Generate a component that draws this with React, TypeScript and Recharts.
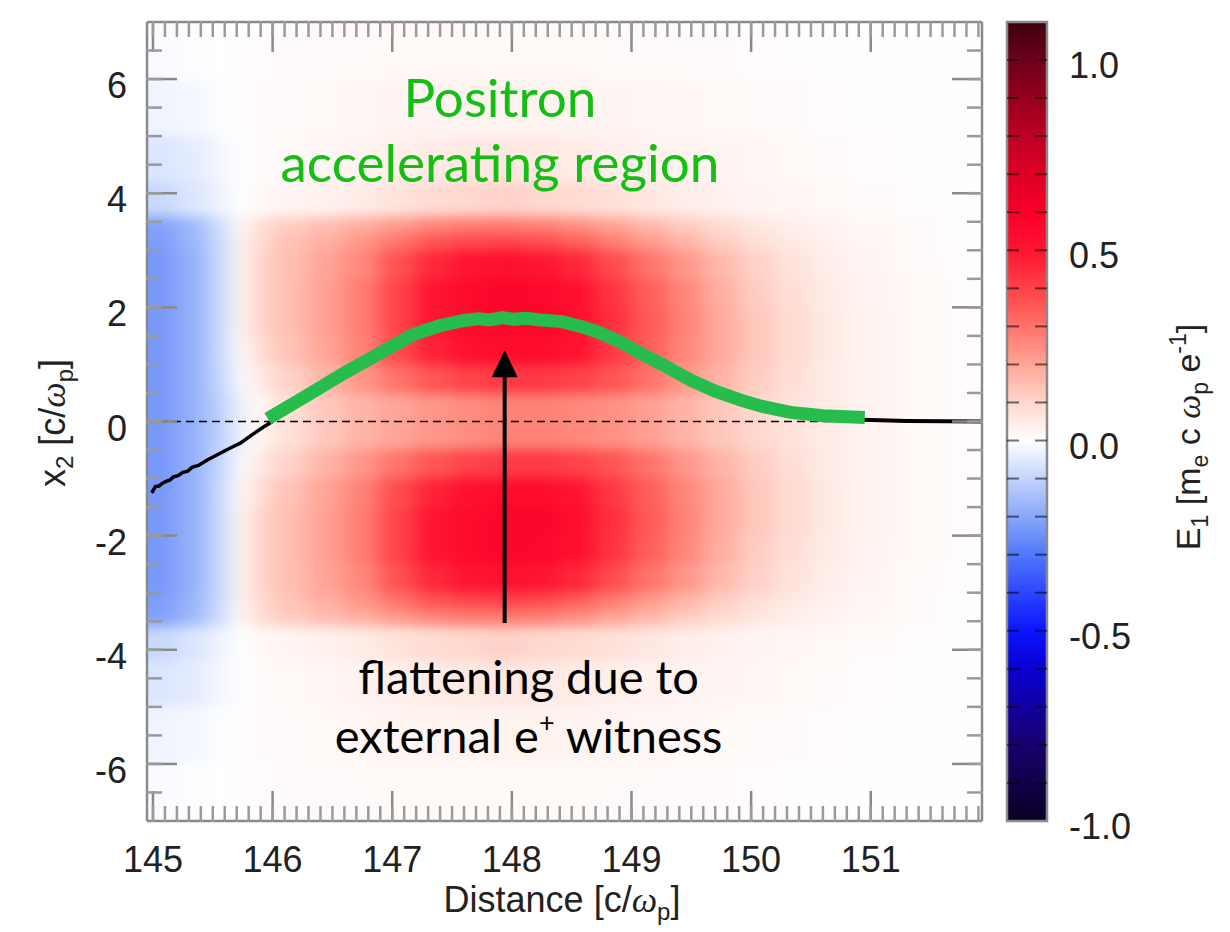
import React from 'react'
import {
  ComposedChart,
  Scatter,
  Line,
  XAxis,
  YAxis,
  ReferenceLine,
  ReferenceDot,
  ReferenceArea,
} from 'recharts'

// axis ranges (simulation box, c/wp) and colour bar range (m_e c wp / e)
const X_DOMAIN: [number, number] = [144.95, 151.93]
const Y_DOMAIN: [number, number] = [-7, 7]
const CBAR_DOMAIN: [number, number] = [-1.0, 1.1]

const xMajorTicks = [145, 146, 147, 148, 149, 150, 151]
const yMajorTicks = [-6, -4, -2, 0, 2, 4, 6]
const cbarLabelTicks = [-1.0, -0.5, 0.0, 0.5, 1.0]

// E1 field: column edges along x, row edges in x2 (upper half, the map is mirror symmetric)
const colEdges = [
  144.4, 145.2, 145.45, 145.65, 145.8, 146.0, 146.3, 146.6, 146.9, 147.2, 147.5, 147.8, 148.1,
  148.4, 148.7, 149.0, 149.3, 149.6, 149.9, 150.2, 150.5, 150.8, 151.2, 151.6, 152.5,
]
const rowEdges = [0, 0.5, 1.0, 1.5, 2.0, 2.5, 3.0, 3.3, 3.6, 4.2, 5.0, 6.0, 8.5]
const fieldUpper = [
  [-0.23, -0.18, -0.11, -0.03, 0.02, 0.08, 0.13, 0.17, 0.2, 0.23, 0.25, 0.27, 0.27, 0.26, 0.24, 0.21, 0.17, 0.13, 0.1, 0.07, 0.05, 0.03, 0.015, 0.008],
  [-0.23, -0.18, -0.1, -0.01, 0.05, 0.11, 0.17, 0.23, 0.3, 0.36, 0.4, 0.42, 0.42, 0.4, 0.36, 0.3, 0.23, 0.17, 0.12, 0.08, 0.05, 0.03, 0.015, 0.008],
  [-0.23, -0.18, -0.09, 0.01, 0.08, 0.14, 0.2, 0.27, 0.38, 0.47, 0.52, 0.54, 0.54, 0.5, 0.42, 0.34, 0.26, 0.19, 0.13, 0.09, 0.055, 0.03, 0.015, 0.008],
  [-0.23, -0.18, -0.09, 0.02, 0.1, 0.15, 0.21, 0.28, 0.4, 0.5, 0.55, 0.57, 0.57, 0.53, 0.44, 0.35, 0.27, 0.19, 0.13, 0.09, 0.055, 0.03, 0.015, 0.008],
  [-0.23, -0.18, -0.09, 0.02, 0.1, 0.15, 0.21, 0.28, 0.4, 0.5, 0.55, 0.57, 0.56, 0.52, 0.43, 0.34, 0.26, 0.18, 0.12, 0.08, 0.05, 0.028, 0.014, 0.007],
  [-0.23, -0.18, -0.09, 0.02, 0.1, 0.15, 0.2, 0.26, 0.37, 0.46, 0.5, 0.52, 0.5, 0.46, 0.38, 0.3, 0.23, 0.16, 0.11, 0.07, 0.045, 0.025, 0.012, 0.006],
  [-0.22, -0.17, -0.09, 0.02, 0.09, 0.14, 0.18, 0.23, 0.3, 0.36, 0.39, 0.4, 0.38, 0.34, 0.28, 0.22, 0.17, 0.12, 0.08, 0.055, 0.035, 0.02, 0.01, 0.005],
  [-0.21, -0.16, -0.08, 0.01, 0.08, 0.12, 0.15, 0.18, 0.22, 0.26, 0.28, 0.28, 0.27, 0.24, 0.2, 0.16, 0.12, 0.09, 0.06, 0.04, 0.03, 0.018, 0.01, 0.005],
  [-0.09, -0.06, -0.03, 0.0, 0.015, 0.025, 0.035, 0.05, 0.07, 0.09, 0.1, 0.11, 0.1, 0.09, 0.075, 0.06, 0.045, 0.035, 0.025, 0.02, 0.015, 0.01, 0.007, 0.004],
  [-0.06, -0.045, -0.02, 0.0, 0.01, 0.015, 0.02, 0.03, 0.04, 0.05, 0.055, 0.06, 0.055, 0.05, 0.04, 0.035, 0.03, 0.025, 0.02, 0.015, 0.012, 0.008, 0.005, 0.003],
  [-0.025, -0.018, -0.005, 0.005, 0.01, 0.012, 0.015, 0.02, 0.025, 0.028, 0.03, 0.03, 0.03, 0.027, 0.024, 0.02, 0.018, 0.015, 0.012, 0.01, 0.008, 0.006, 0.004, 0.002],
  [-0.01, -0.005, 0.0, 0.005, 0.008, 0.01, 0.012, 0.013, 0.015, 0.015, 0.015, 0.015, 0.015, 0.014, 0.013, 0.012, 0.011, 0.01, 0.008, 0.007, 0.006, 0.005, 0.003, 0.002],
]

// drive beam centroid (black) and the part over the witness (green)
const beamLeft = [
  { x: 144.99, y: -1.25 }, { x: 145.02, y: -1.14 }, { x: 145.05, y: -1.13 }, { x: 145.08, y: -1.08 },
  { x: 145.11, y: -1.05 }, { x: 145.14, y: -1.03 }, { x: 145.17, y: -0.97 }, { x: 145.21, y: -0.95 },
  { x: 145.25, y: -0.89 }, { x: 145.29, y: -0.87 }, { x: 145.33, y: -0.8 }, { x: 145.38, y: -0.77 },
  { x: 145.45, y: -0.68 }, { x: 145.55, y: -0.57 }, { x: 145.65, y: -0.46 }, { x: 145.73, y: -0.38 },
  { x: 145.83, y: -0.23 }, { x: 145.92, y: -0.1 }, { x: 146.0, y: 0.0 },
]
const witness = [
  { x: 145.96, y: 0.05 }, { x: 146.3, y: 0.47 }, { x: 146.6, y: 0.85 }, { x: 146.9, y: 1.2 },
  { x: 147.17, y: 1.52 }, { x: 147.4, y: 1.68 }, { x: 147.6, y: 1.77 }, { x: 147.72, y: 1.8 },
  { x: 147.82, y: 1.78 }, { x: 147.92, y: 1.82 }, { x: 148.02, y: 1.79 }, { x: 148.12, y: 1.81 },
  { x: 148.24, y: 1.78 }, { x: 148.42, y: 1.75 }, { x: 148.6, y: 1.65 }, { x: 148.73, y: 1.56 },
  { x: 148.9, y: 1.4 }, { x: 149.08, y: 1.19 }, { x: 149.3, y: 0.95 }, { x: 149.5, y: 0.72 },
  { x: 149.7, y: 0.53 }, { x: 149.92, y: 0.37 }, { x: 150.1, y: 0.26 }, { x: 150.33, y: 0.16 },
  { x: 150.6, y: 0.1 }, { x: 150.95, y: 0.07 },
]
const beamRight = [
  { x: 150.93, y: 0.03 }, { x: 151.3, y: 0.01 }, { x: 151.93, y: 0.0 },
]
const arrowSegment = [{ x: 147.94, y: -3.53 }, { x: 147.94, y: 1.25 }]

// colour table of the E1 map
const colorStops: [number, [number, number, number]][] = [
  [-1.0, [10, 0, 35]],
  [-0.8, [25, 0, 110]],
  [-0.6, [10, 0, 210]],
  [-0.5, [10, 20, 255]],
  [-0.3, [80, 120, 250]],
  [-0.15, [165, 190, 250]],
  [0.0, [255, 255, 255]],
  [0.1, [255, 215, 205]],
  [0.2, [255, 165, 150]],
  [0.35, [255, 90, 85]],
  [0.5, [255, 20, 50]],
  [0.6, [250, 0, 40]],
  [0.8, [190, 0, 35]],
  [1.0, [110, 0, 25]],
  [1.1, [60, 0, 15]],
]

const SANS = '"Liberation Sans", Arial, sans-serif'
const SERIF = '"Liberation Serif", serif'
const GILL = 'Lato, "Open Sans", sans-serif'
const FRAME = '#8a8a8a'

// two 1px axes on each side of the plot
const CHART_W = 1000
const CHART_H = 932
const MARGIN = { top: 20, right: 16, bottom: 109, left: 145 }
const PLOT_W = 835
const PLOT_H = 799
const PX_X = PLOT_W / (X_DOMAIN[1] - X_DOMAIN[0])
const PX_Y = PLOT_H / (Y_DOMAIN[1] - Y_DOMAIN[0])

const steps = (from: number, to: number, step: number) => {
  const out: number[] = []
  for (let v = from; v <= to + 1e-9; v += step) out.push(Math.round(v * 100) / 100)
  return out
}
const xMinorTicks = steps(145, 151.9, 0.1)
const yMinorTicks = steps(-6.5, 6.5, 0.5)
const cbarMinorTicks = steps(-0.9, 1.0, 0.1)

// invisible span so the tick-only x axes get their range
const xSpan = [{ x: X_DOMAIN[0], y: 0 }, { x: X_DOMAIN[1], y: 0 }]

const fieldColor = (v: number) => {
  const s = colorStops
  if (v <= s[0][0]) return `rgb(${s[0][1].join(',')})`
  for (let i = 1; i < s.length; i++) {
    if (v <= s[i][0]) {
      const t = (v - s[i - 1][0]) / (s[i][0] - s[i - 1][0])
      const c = s[i - 1][1].map((a, k) => Math.round(a + (s[i][1][k] - a) * t))
      return `rgb(${c.join(',')})`
    }
  }
  return `rgb(${s[s.length - 1][1].join(',')})`
}

type FieldCell = { x: number; y: number; w: number; h: number; v: number }
const cells: FieldCell[] = []
fieldUpper.forEach((row, i) => {
  const h = rowEdges[i + 1] - rowEdges[i]
  const yc = (rowEdges[i] + rowEdges[i + 1]) / 2
  row.forEach((v, j) => {
    const w = colEdges[j + 1] - colEdges[j]
    const xc = (colEdges[j] + colEdges[j + 1]) / 2
    cells.push({ x: xc, y: yc, w, h, v })
    cells.push({ x: xc, y: -yc, w, h, v })
  })
})

const cbarLine = colorStops.map(([v]) => ({ x: 0.5, v }))

const CellShape = (props: any) => {
  const { cx, cy, payload } = props
  const w = payload.w * PX_X + 1
  const h = payload.h * PX_Y + 1
  return <rect x={cx - w / 2} y={cy - h / 2} width={w} height={h} fill={fieldColor(payload.v)} />
}

const ArrowShape = (props: any) => {
  const { x1, y1, x2, y2 } = props
  const head = 27
  const half = 13
  const dir = y2 < y1 ? 1 : -1
  return (
    <g>
      <line x1={x1} y1={y1} x2={x2} y2={y2 + dir * head} stroke="#000" strokeWidth={4} />
      <polygon
        points={`${x2},${y2} ${x2 - half},${y2 + dir * head} ${x2 + half},${y2 + dir * head}`}
        fill="#000"
      />
    </g>
  )
}

// tick marks only, no label
const NoLabel = () => <g />

const XTickLabel = (p: any) => (
  <text x={p.x} y={p.y} textAnchor="middle" fontFamily={SANS} fontSize={36} fill="#222">
    {p.payload.value}
  </text>
)
const YTickLabel = (p: any) => (
  <text x={p.x} y={p.y + 19} textAnchor="end" fontFamily={SANS} fontSize={36} fill="#222">
    {p.payload.value}
  </text>
)
const CbarTickLabel = (p: any) => (
  <text x={p.x} y={p.y + 18} textAnchor="start" fontFamily={SANS} fontSize={36} fill="#222">
    {Number(p.payload.value).toFixed(1)}
  </text>
)

const note = (text: React.ReactNode, color: string, size: number) => (p: any) => {
  const vb = p.viewBox || {}
  const cx = (vb.x ?? 0) + (vb.width ?? 0) / 2
  const cy = (vb.y ?? 0) + (vb.height ?? 0) / 2
  return (
    <text x={cx} y={cy} textAnchor="middle" fontFamily={GILL} fontSize={size} fill={color}>
      {text}
    </text>
  )
}

const tickLine = { stroke: FRAME, strokeWidth: 2.5 }
const minorTickLine = { stroke: '#9a9a9a', strokeWidth: 2.5 }
const axisLine = { stroke: FRAME, strokeWidth: 2.5 }
const cbarTickLine = { stroke: '#000', strokeOpacity: 0.55, strokeWidth: 2 }

function MainPanel() {
  return (
    <ComposedChart width={CHART_W} height={CHART_H} margin={MARGIN}>
      {/* frame + tick marks pointing inwards on all four sides */}
      <XAxis xAxisId="x" dataKey="x" type="number" domain={X_DOMAIN} allowDataOverflow height={1}
        ticks={xMajorTicks} interval={0} tick={XTickLabel} tickSize={-30} tickMargin={81}
        tickLine={tickLine} axisLine={axisLine} />
      <XAxis xAxisId="xbm" dataKey="x" type="number" domain={X_DOMAIN} allowDataOverflow height={1}
        ticks={xMinorTicks} interval={0} tick={NoLabel} tickSize={-16} tickLine={minorTickLine} axisLine={false} />
      <XAxis xAxisId="xtM" dataKey="x" orientation="top" type="number" domain={X_DOMAIN} allowDataOverflow height={1}
        ticks={xMajorTicks} interval={0} tick={NoLabel} tickSize={-30} tickLine={tickLine} axisLine={axisLine} />
      <XAxis xAxisId="xtm" dataKey="x" orientation="top" type="number" domain={X_DOMAIN} allowDataOverflow height={1}
        ticks={xMinorTicks} interval={0} tick={NoLabel} tickSize={-16} tickLine={minorTickLine} axisLine={false} />
      <YAxis yAxisId="y" dataKey="y" type="number" domain={Y_DOMAIN} allowDataOverflow width={1}
        ticks={yMajorTicks} interval={0} tick={YTickLabel} tickSize={-30} tickMargin={50}
        tickLine={tickLine} axisLine={axisLine} />
      <YAxis yAxisId="ylm" type="number" domain={Y_DOMAIN} allowDataOverflow width={1}
        ticks={yMinorTicks} interval={0} tick={NoLabel} tickSize={-16} tickLine={minorTickLine} axisLine={false} />
      <YAxis yAxisId="yrM" orientation="right" type="number" domain={Y_DOMAIN} allowDataOverflow width={1}
        ticks={yMajorTicks} interval={0} tick={NoLabel} tickSize={-30} tickLine={tickLine} axisLine={axisLine} />
      <YAxis yAxisId="yrm" orientation="right" type="number" domain={Y_DOMAIN} allowDataOverflow width={1}
        ticks={yMinorTicks} interval={0} tick={NoLabel} tickSize={-16} tickLine={minorTickLine} axisLine={false} />

      {['xbm', 'xtM', 'xtm'].map((id) => (
        <Line key={id} data={xSpan} dataKey="y" xAxisId={id} yAxisId="y" stroke="none" dot={false}
          isAnimationActive={false} />
      ))}

      <Scatter
        className="field-map"
        data={cells}
        dataKey="y"
        xAxisId="x"
        yAxisId="y"
        shape={CellShape}
        isAnimationActive={false}
        zIndex={-50}
      />

      <ReferenceLine
        xAxisId="x"
        yAxisId="y"
        segment={[{ x: X_DOMAIN[0], y: 0 }, { x: 150.9, y: 0 }]}
        stroke="#000"
        strokeWidth={1.4}
        strokeDasharray="8 5"
        zIndex={390}
      />
      <Line data={beamLeft} dataKey="y" xAxisId="x" yAxisId="y" stroke="#000" strokeWidth={3.5}
        dot={false} isAnimationActive={false} zIndex={400} />
      <Line data={beamRight} dataKey="y" xAxisId="x" yAxisId="y" stroke="#000" strokeWidth={4}
        dot={false} isAnimationActive={false} zIndex={400} />
      <Line data={witness} dataKey="y" xAxisId="x" yAxisId="y" stroke="#27bd4c" strokeWidth={13}
        strokeLinecap="butt" dot={false} isAnimationActive={false} zIndex={410} />
      <ReferenceLine xAxisId="x" yAxisId="y" segment={arrowSegment} shape={ArrowShape} zIndex={450} />

      <ReferenceDot xAxisId="x" yAxisId="y" x={147.9} y={5.33} r={0} fill="none" stroke="none"
        label={note('Positron', '#14bf14', 53)} />
      <ReferenceDot xAxisId="x" yAxisId="y" x={147.9} y={4.19} r={0} fill="none" stroke="none"
        label={note('accelerating region', '#14bf14', 53)} />
      <ReferenceDot xAxisId="x" yAxisId="y" x={148.14} y={-4.77} r={0} fill="none" stroke="none"
        label={note('flattening due to', '#000', 47)} />
      <ReferenceDot xAxisId="x" yAxisId="y" x={148.14} y={-5.81} r={0} fill="none" stroke="none"
        label={note(
          <>
            external e<tspan dy={-21} fontSize={27}>+</tspan>
            <tspan dy={21}> witness</tspan>
          </>,
          '#000',
          47
        )} />
    </ComposedChart>
  )
}

function ColorBar() {
  return (
    <ComposedChart width={1230} height={CHART_H} margin={{ top: 22, right: 181, bottom: 111, left: 1006 }}>
      <XAxis xAxisId="cx" dataKey="x" type="number" domain={[0, 1]} hide />
      <YAxis yAxisId="cbl" type="number" domain={CBAR_DOMAIN} allowDataOverflow width={1}
        ticks={cbarMinorTicks} interval={0} tick={NoLabel} tickSize={-12}
        tickLine={cbarTickLine} axisLine={false} />
      <YAxis yAxisId="cb" orientation="right" type="number" domain={CBAR_DOMAIN} allowDataOverflow width={1}
        ticks={cbarMinorTicks} interval={0} tick={NoLabel} tickSize={-12}
        tickLine={cbarTickLine} axisLine={false} />
      <YAxis yAxisId="cbt" orientation="right" type="number" domain={CBAR_DOMAIN} allowDataOverflow width={1}
        ticks={cbarLabelTicks} interval={0} tick={CbarTickLabel} tickSize={-12} tickMargin={33}
        tickLine={false} axisLine={false} />
      <ReferenceArea xAxisId="cx" yAxisId="cb" x1={0} x2={1} y1={CBAR_DOMAIN[0]} y2={CBAR_DOMAIN[1]}
        fill="url(#cbarGrad)" fillOpacity={1} stroke={FRAME} strokeWidth={2.5} zIndex={-50} />
      <Line data={cbarLine} dataKey="v" xAxisId="cx" yAxisId="cb" stroke="none" dot={false}
        isAnimationActive={false} />
    </ComposedChart>
  )
}

export default function App() {
  const span = CBAR_DOMAIN[1] - CBAR_DOMAIN[0]
  return (
    <div style={{ position: 'absolute', left: 0, top: 0, width: 1230, height: 932, background: '#fff' }}>
      <style>{`.field-map { filter: url(#fieldBlur); }`}</style>
      <svg width={0} height={0} style={{ position: 'absolute' }}>
        <defs>
          <filter id="fieldBlur" x="-5%" y="-5%" width="110%" height="110%" colorInterpolationFilters="sRGB">
            <feGaussianBlur stdDeviation="10 6" />
          </filter>
          <linearGradient id="cbarGrad" x1="0" y1="1" x2="0" y2="0">
            {colorStops.map(([v, c]) => (
              <stop key={v} offset={(v - CBAR_DOMAIN[0]) / span} stopColor={`rgb(${c.join(',')})`} />
            ))}
          </linearGradient>
        </defs>
      </svg>
      <div style={{ position: 'absolute', left: 0, top: 0 }}>
        <MainPanel />
      </div>
      <div style={{ position: 'absolute', left: 0, top: 0 }}>
        <ColorBar />
      </div>
      <svg width={1230} height={932} style={{ position: 'absolute', left: 0, top: 0, pointerEvents: 'none' }}>
        <text x={562} y={912} textAnchor="middle" fontFamily={SANS} fontSize={36} fill="#222">
          Distance [c/<tspan fontFamily={SERIF} fontStyle="italic">ω</tspan>
          <tspan dy={8} fontSize={24}>p</tspan>
          <tspan dy={-8}>]</tspan>
        </text>
        <text transform="translate(65 423) rotate(-90)" textAnchor="middle" fontFamily={SANS} fontSize={36} fill="#222">
          x<tspan dy={8} fontSize={24}>2</tspan>
          <tspan dy={-8}> [c/</tspan>
          <tspan fontFamily={SERIF} fontStyle="italic">ω</tspan>
          <tspan dy={8} fontSize={24}>p</tspan>
          <tspan dy={-8}>]</tspan>
        </text>
        <text transform="translate(1200 437) rotate(-90)" textAnchor="middle" fontFamily={SANS} fontSize={34} fill="#222">
          E<tspan dy={8} fontSize={23}>1</tspan>
          <tspan dy={-8}> [m</tspan>
          <tspan dy={8} fontSize={23}>e</tspan>
          <tspan dy={-8}> c </tspan>
          <tspan fontFamily={SERIF} fontStyle="italic">ω</tspan>
          <tspan dy={8} fontSize={23}>p</tspan>
          <tspan dy={-8}> e</tspan>
          <tspan dy={-14} fontSize={23}>-1</tspan>
          <tspan dy={14}>]</tspan>
        </text>
      </svg>
    </div>
  )
}
